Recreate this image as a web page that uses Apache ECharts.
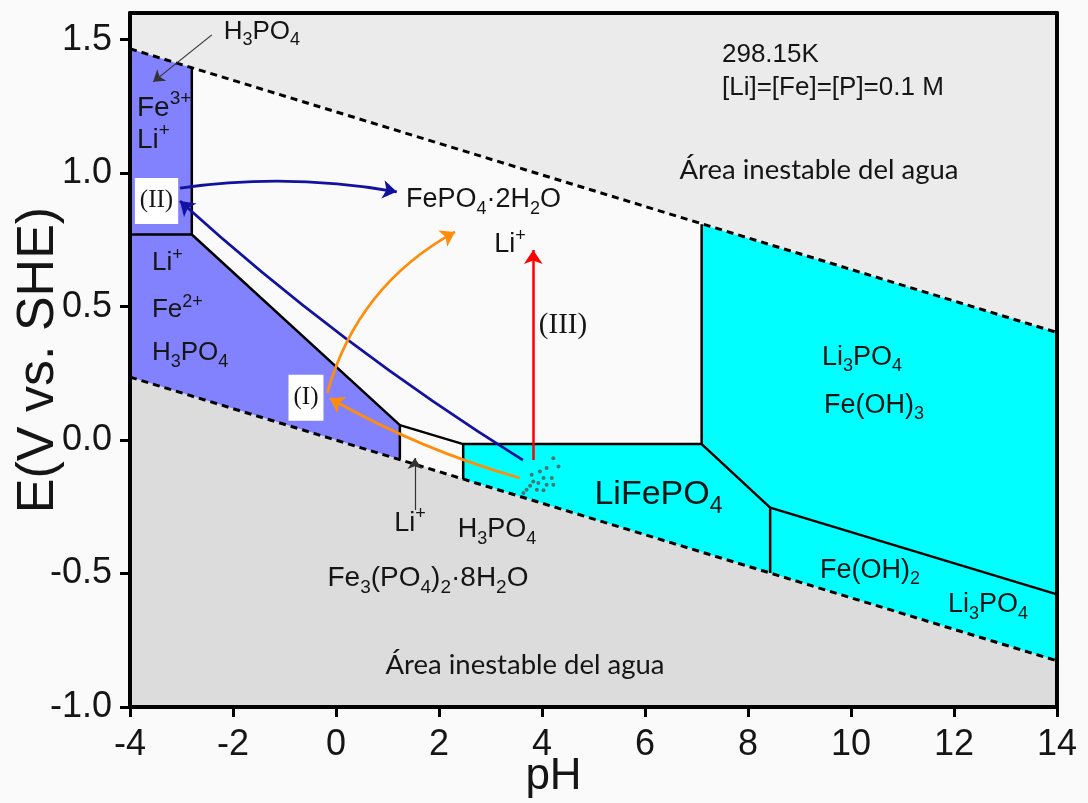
<!DOCTYPE html>
<html><head><meta charset="utf-8">
<script src="https://cdn.jsdelivr.net/npm/echarts@6/dist/echarts.min.js"></script>
<style>html,body{margin:0;padding:0;background:#fafafa}#c{width:1088px;height:803px}</style>
</head><body><div id="c"></div><script>
// ---- data (pH, E) ----
const xTicks = [-4, -2, 0, 2, 4, 6, 8, 10, 12, 14];
const yTicks = [-1.0, -0.5, 0.0, 0.5, 1.0, 1.5];
const upperWater = [[-4, 1.466], [14, 0.403]];
const lowerWater = [[-4, 0.236], [14, -0.827]];
const upperGray = [[-4, 1.6], [14, 1.6], [14, 0.403], [-4, 1.466]];
const lowerGray = [[-4, 0.236], [14, -0.827], [14, -1.0], [-4, -1.0]];
const fe3Region = [[-4, 1.466], [-2.8, 1.395], [-2.8, 0.77], [-4, 0.77]];
const fe2Region = [[-4, 0.77], [-2.8, 0.77], [1.24, 0.056], [1.24, -0.073], [-4, 0.236]];
const lfpRegion = [[2.47, -0.015], [7.1, -0.015], [8.43, -0.253], [8.43, -0.498], [2.47, -0.146]];
const feoh3Region = [[7.1, 0.809], [14, 0.403], [14, -0.578], [8.43, -0.253], [7.1, -0.015]];
const feoh2Region = [[8.43, -0.253], [14, -0.578], [14, -0.827], [8.43, -0.498]];
const boundaries = [
  [[-2.8, 1.395], [-2.8, 0.77]],
  [[-4, 0.77], [-2.8, 0.77], [1.24, 0.056], [1.24, -0.073]],
  [[1.24, 0.056], [2.47, -0.015], [7.1, -0.015], [7.1, 0.809]],
  [[2.47, -0.015], [2.47, -0.146]],
  [[7.1, -0.015], [8.43, -0.253], [8.43, -0.498]],
  [[8.43, -0.253], [14, -0.578]]
];
const blueArrows = [[[-3.03, 0.944], [1.18, 0.93]], [[3.63, -0.075], [-3.03, 0.896]]];
const blueCurve = [0.08, 0.045];
const orangeArrows = [[[3.57, -0.142], [-0.12, 0.157]], [[-0.17, 0.176], [2.31, 0.78]]];
const orangeCurve = [0.06, 0.21];
const redArrow = [[3.83, -0.075], [3.83, 0.712]];
const pointerArrows = [[[-2.41, 1.518], [-3.55, 1.342]], [[1.53, -0.262], [1.53, -0.067]]];
const dots = [[4.22, -0.068], [4.32, -0.099], [4.09, -0.105], [3.96, -0.118], [3.80, -0.130], [4.03, -0.142],
  [4.19, -0.142], [3.83, -0.155], [3.93, -0.161], [4.09, -0.167], [3.77, -0.171], [4.22, -0.167],
  [3.70, -0.186], [3.90, -0.186], [4.03, -0.188], [3.64, -0.198]];
const labelPos = [
  [-1.44, 1.529], [-3.864, 1.244], [-3.864, 1.124], [-3.485, 0.896],
  [2.864, 0.90], [3.379, 0.731], [7.495, 1.443], [7.495, 1.319],
  [9.379, 1.012], [3.670, -0.843], [-3.573, 0.663], [-3.573, 0.487], [-3.573, 0.326],
  [-0.583, 0.159], [4.408, 0.431], [6.262, -0.206], [10.214, 0.311], [10.447, 0.131],
  [10.369, -0.487], [12.660, -0.618], [1.437, -0.311], [3.126, -0.337], [1.786, -0.517]
];
const labelText = [
  'H{s|3}PO{s|4}', 'Fe{u|3+}', 'Li{u|+}', '(II)',
  'FePO{s|4}·2H{s|2}O', 'Li{u|+}', '298.15K', '[Li]=[Fe]=[P]=0.1 M',
  'Área inestable del agua', 'Área inestable del agua', 'Li{u|+}', 'Fe{u|2+}', 'H{s|3}PO{s|4}',
  '(I)', '(III)', 'LiFePO{s|4}', 'Li{s|3}PO{s|4}', 'Fe(OH){s|3}',
  'Fe(OH){s|2}', 'Li{s|3}PO{s|4}', 'Li{u|+}', 'H{s|3}PO{s|4}', 'Fe{s|3}(PO{s|4}){s|2}·8H{s|2}O'
];
const labelKind = [
  'small', 'chemL', 'chemL', 'box',
  'chem', 'chem', 'note', 'note',
  'area', 'area', 'chemP', 'chemP', 'chemP',
  'box', 'serif', 'big', 'chem', 'chem',
  'chem', 'chem', 'chem', 'chem', 'chemW'
];

// ---- styles ----
const SANS = '"Liberation Sans", Arial, Helvetica, sans-serif';
const SERIF = '"Liberation Serif", "Times New Roman", serif';
const kinds = {
  small: {size: 26, font: SANS, align: 'center'},
  chem: {size: 27, font: SANS, align: 'center'},
  chemW: {size: 28, font: SANS, align: 'center'},
  chemL: {size: 28, font: SANS, align: 'left'},
  chemP: {size: 26, font: SANS, align: 'left'},
  big: {size: 34, font: SANS, align: 'center'},
  note: {size: 26, font: SANS, align: 'left'},
  area: {size: 27.5, font: 'Lato, "Open Sans", sans-serif', align: 'center'},
  serif: {size: 29, font: SERIF, align: 'center'},
  box: {size: 25, font: SERIF, align: 'center', box: true}
};
function richFor(k) {
  const ss = Math.round(k.size * 0.68);
  return {
    s: {fontSize: ss, lineHeight: ss, verticalAlign: 'bottom', fontFamily: k.font, fill: '#151515'},
    u: {fontSize: ss, lineHeight: ss, verticalAlign: 'top', fontFamily: k.font, fill: '#151515'}
  };
}

const regions = [
  {pts: upperGray, color: '#ebebeb'},
  {pts: lowerGray, color: '#dcdcdc'},
  {pts: fe3Region, color: '#8282ff'},
  {pts: fe2Region, color: '#8282ff'},
  {pts: lfpRegion, color: '#00ffff'},
  {pts: feoh3Region, color: '#00ffff'},
  {pts: feoh2Region, color: '#00ffff'}
];

const axisLineStyle = {color: '#000', width: 4};
const chart = echarts.init(document.getElementById('c'), null, {renderer: 'canvas'});
const series = [];
series.push({
  type: 'custom', coordinateSystem: 'cartesian2d', silent: true, z: 1,
  data: regions.map(r => r.pts[0]),
  renderItem: (params, api) => {
    const r = regions[params.dataIndex];
    return {type: 'polygon', shape: {points: r.pts.map(p => api.coord(p))}, style: {fill: r.color}};
  }
});
[upperWater, lowerWater].forEach(w => series.push({
  type: 'line', data: w, symbol: 'none', silent: true, z: 3,
  lineStyle: {color: '#000', width: 3, type: [7, 5]}
}));
boundaries.forEach(b => series.push({
  type: 'line', data: b, symbol: 'none', silent: true, z: 4,
  lineStyle: {color: '#000', width: 2.5}
}));
series.push({
  type: 'custom', coordinateSystem: 'cartesian2d', silent: true, z: 6,
  data: labelPos,
  renderItem: (params, api) => {
    const i = params.dataIndex;
    const k = kinds[labelKind[i]];
    const p = api.coord(labelPos[i]);
    const style = {
      text: labelText[i], rich: richFor(k), fontSize: k.size, fontFamily: k.font,
      lineHeight: Math.round(k.size * 1.35), fill: '#151515', align: k.align, verticalAlign: 'middle'
    };
    if (k.box) { style.backgroundColor = '#ffffff'; style.padding = [6, 5, 6, 5]; }
    return {type: 'text', x: p[0], y: p[1], style};
  }
});
function arrowSeries(list, curves, color, width, size) {
  return {
    type: 'lines', coordinateSystem: 'cartesian2d', silent: true, z: 7,
    symbol: ['none', 'arrow'], symbolSize: size,
    lineStyle: {color, width, opacity: 1},
    data: list.map((c, i) => ({coords: c, lineStyle: {curveness: curves ? curves[i] : 0}}))
  };
}
series.push(arrowSeries(blueArrows, blueCurve, '#12129e', 2.8, 14));
series.push(arrowSeries(orangeArrows, orangeCurve, '#ff8c0a', 2.8, 14));
series.push(arrowSeries([redArrow], null, '#ff0000', 2.5, 14));
series.push(arrowSeries(pointerArrows, null, '#333333', 1.2, 11));
series.push({
  type: 'scatter', data: dots, symbol: 'circle', symbolSize: 4, silent: true, z: 7,
  itemStyle: {color: '#555555'}
});

chart.setOption({
  animation: false,
  backgroundColor: '#fafafa',
  grid: {left: 130, right: 31, top: 13, bottom: 96, outerBoundsMode: 'none', containLabel: false},
  xAxis: [{
    type: 'value', min: -4, max: 14, interval: 2, position: 'bottom', z: 10,
    axisLine: {onZero: false, lineStyle: axisLineStyle},
    axisTick: {length: 10, lineStyle: {color: '#000', width: 3}, customValues: xTicks},
    axisLabel: {fontSize: 36, fontFamily: SANS, color: '#151515', margin: 20, customValues: xTicks},
    splitLine: {show: false},
    name: 'pH', nameLocation: 'middle', nameGap: 48, nameMoveOverlap: false,
    nameTextStyle: {fontSize: 44, fontFamily: SANS, color: '#151515', padding: [0, 80, 0, 0]}
  }, {
    type: 'value', min: -4, max: 14, position: 'top', z: 10,
    axisLine: {onZero: false, lineStyle: axisLineStyle},
    axisTick: {show: false}, axisLabel: {show: false}, splitLine: {show: false}
  }],
  yAxis: [{
    type: 'value', min: -1.0, max: 1.6, interval: 0.5, position: 'left', z: 10,
    axisLine: {onZero: false, lineStyle: axisLineStyle},
    axisTick: {length: 10, lineStyle: {color: '#000', width: 3}, customValues: yTicks},
    axisLabel: {fontSize: 36, fontFamily: SANS, color: '#151515', margin: 18, customValues: yTicks,
      formatter: v => v.toFixed(1)},
    splitLine: {show: false},
    name: 'E(V vs. SHE)', nameLocation: 'middle', nameGap: 65, nameMoveOverlap: false,
    nameTextStyle: {fontSize: 52, fontFamily: SANS, color: '#151515'}
  }, {
    type: 'value', min: -1.0, max: 1.6, position: 'right', z: 10,
    axisLine: {onZero: false, lineStyle: axisLineStyle},
    axisTick: {show: false}, axisLabel: {show: false}, splitLine: {show: false}
  }],
  series
});
</script></body></html>
